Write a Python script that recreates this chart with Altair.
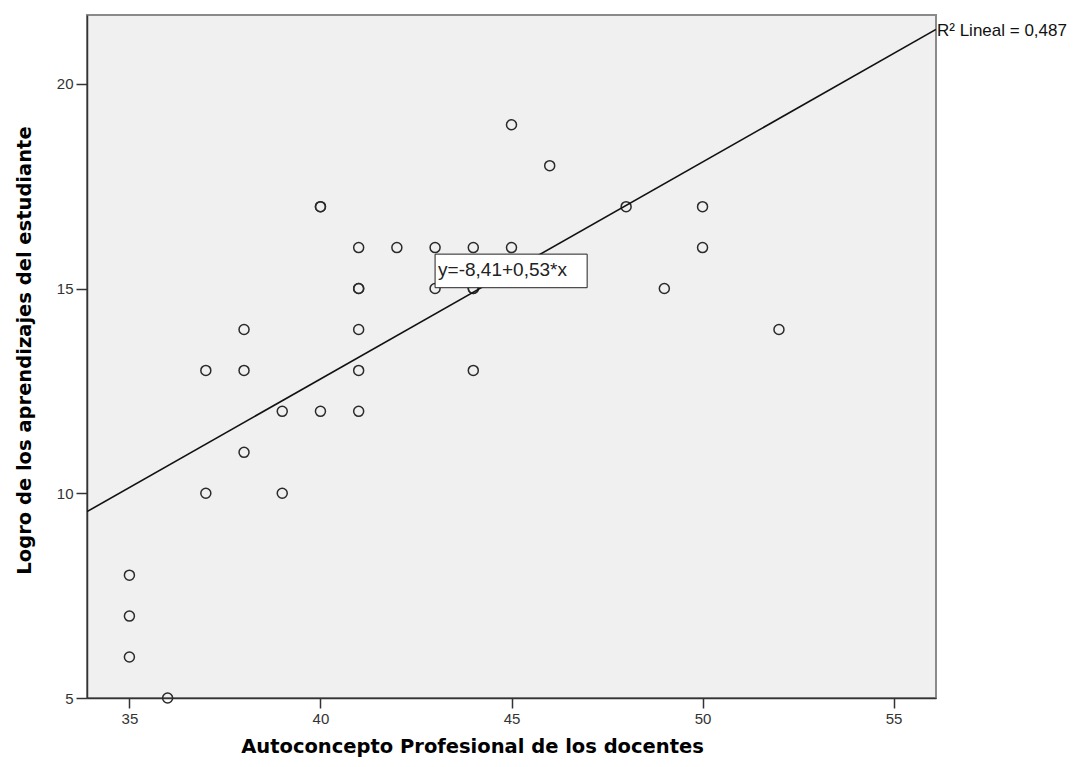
import altair as alt
import pandas as pd

# Scatter data: Autoconcepto Profesional (x) vs Logro de aprendizajes (y)
autoconcepto = [35, 35, 35, 36, 37, 37, 38, 38, 38, 39, 39, 40, 40, 40,
                41, 41, 41, 41, 41, 41, 42, 43, 43, 44, 44, 44, 44,
                45, 45, 46, 48, 49, 50, 50, 52]
logro = [8, 7, 6, 5, 13, 10, 14, 13, 11, 12, 10, 17, 17, 12,
         16, 15, 15, 14, 13, 12, 16, 16, 15, 16, 15, 15, 13,
         19, 16, 18, 17, 15, 17, 16, 14]

# Regression fit
intercept = -8.41
slope = 0.53
r2_text = "R\u00b2 Lineal = 0,487"
eq_text = "y=-8,41+0,53*x"

x_domain = [33.89, 56.11]
y_domain = [5, 21.68]
x_ticks = [35, 40, 45, 50, 55]
y_ticks = [5, 10, 15, 20]

# annotation box location (data coordinates)
eq_box_x = [43.0, 46.98]
eq_box_y = [15.02, 15.84]

pts = pd.DataFrame({"x": autoconcepto, "y": logro})
line_df = pd.DataFrame({"x": x_domain})
r2_df = pd.DataFrame({"x": [x_domain[1]], "label": [r2_text]})
box_df = pd.DataFrame({"x": [eq_box_x[0]], "x2": [eq_box_x[1]],
                       "y": [eq_box_y[0]], "y2": [eq_box_y[1]],
                       "label": [eq_text]})

xs = alt.Scale(domain=x_domain, nice=False, zero=False)
ys = alt.Scale(domain=y_domain, nice=False, zero=False)

x_axis = alt.Axis(values=x_ticks, title="Autoconcepto Profesional de los docentes",
                  grid=False, tickSize=10, labelPadding=3,
                  titleX=385, titleY=48, titleAlign="center", titleBaseline="middle")
y_axis = alt.Axis(values=y_ticks, title="Logro de los aprendizajes del estudiante",
                  grid=False, tickSize=11, labelPadding=3,
                  titleX=-63, titleY=335, titleAngle=270, titleAlign="center",
                  titleBaseline="middle")

points = alt.Chart(pts).mark_point(
    shape="circle", filled=False, size=100, stroke="#2a2a2a", strokeWidth=1.5, opacity=1
).encode(
    x=alt.X("x:Q", scale=xs, axis=x_axis),
    y=alt.Y("y:Q", scale=ys, axis=y_axis),
)

fit = alt.Chart(line_df).transform_calculate(
    y=f"{intercept} + {slope} * datum.x"
).mark_line(color="#111111", strokeWidth=1.6, clip=True).encode(
    x=alt.X("x:Q", scale=xs),
    y=alt.Y("y:Q", scale=ys),
)

r2 = alt.Chart(r2_df).transform_calculate(
    y=f"{intercept} + {slope} * datum.x"
).mark_text(
    align="left", baseline="middle", dx=1, dy=2, fontSize=17,
    font="Liberation Sans", color="#111111", clip=False
).encode(
    x=alt.X("x:Q", scale=xs),
    y=alt.Y("y:Q", scale=ys),
    text="label:N",
)

box = alt.Chart(box_df).mark_rect(
    fill="white", stroke="#222222", strokeWidth=1
).encode(
    x=alt.X("x:Q", scale=xs), x2="x2:Q",
    y=alt.Y("y:Q", scale=ys), y2="y2:Q",
)

box_text = alt.Chart(box_df).mark_text(
    align="left", baseline="middle", dx=3, dy=-1, fontSize=19,
    font="Liberation Sans", color="#222222"
).encode(
    x=alt.X("x:Q", scale=xs),
    y=alt.Y("ym:Q", scale=ys),
    text="label:N",
).transform_calculate(ym="(datum.y + datum.y2) / 2")

chart = alt.layer(points, fit, r2, box, box_text).properties(
    width=849, height=683,
    autosize=alt.AutoSizeParams(type="none"),
    padding={"left": 79, "top": 7, "right": 138, "bottom": 60},
    background="white",
).configure_view(
    fill="#F0F0F0", stroke="#8a8a8a", strokeWidth=2
).configure_axis(
    domainColor="#333333", domainWidth=1.5,
    tickColor="#333333", tickWidth=1.5,
    labelFont="Liberation Sans", labelFontSize=15, labelColor="#333333",
    titleFont="DejaVu Sans", titleFontSize=19.5, titleFontWeight="bold",
    titleColor="#000000",
)

chart.save("out.html", embed_options={"renderer": "svg", "actions": False})
